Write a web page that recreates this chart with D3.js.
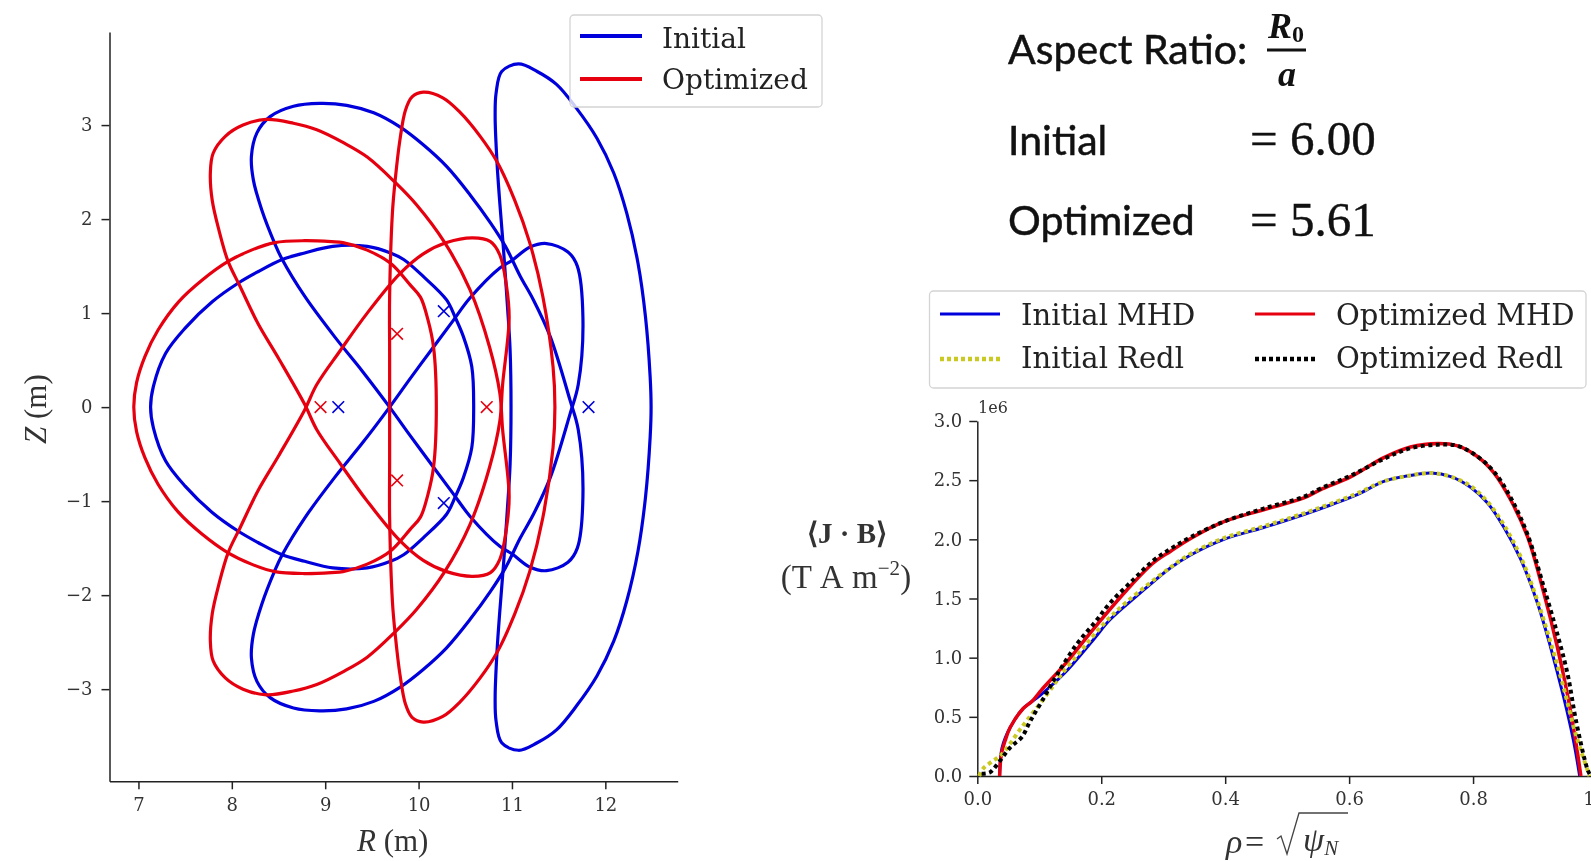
<!DOCTYPE html>
<html>
<head>
<meta charset="utf-8">
<script src="https://cdn.jsdelivr.net/npm/d3@7"></script>
<style>
  html, body { margin: 0; padding: 0; background: #fff; overflow: hidden; }
  svg { display: block; filter: blur(0.55px); }
  .tick text { font-family: "DejaVu Serif", serif; font-size: 18px; fill: #333; }
  .domain, .tick line { stroke: #222; stroke-width: 1.5px; }
  .legend text { font-family: "DejaVu Serif", serif; fill: #222; }
  .math { font-family: "Liberation Serif", serif; fill: #333; }
  .calibri { font-family: Lato, sans-serif; font-size: 41px; fill: #111; stroke: #111; stroke-width: 0.5px; }
  .cambria { font-family: "Liberation Serif", serif; font-size: 49px; fill: #111; stroke: #111; stroke-width: 0.4px; }
</style>
</head>
<body>
<div id="chart"></div>
<script>
// left panel: cross sections, upper halves mirror about Z = 0
var blueDHalf = [[7.13,0],[7.16,0.22],[7.29,0.57],[7.5,0.84],[7.79,1.12],[8.07,1.32],[8.28,1.44],[8.54,1.57],[8.78,1.64],[9.08,1.71],[9.45,1.71],[9.7,1.64],[9.84,1.57],[10.05,1.39],[10.3,1.14],[10.39,0.96],[10.48,0.75],[10.57,0.43],[10.59,0]];
var redDHalf = [[6.95,0],[6.98,0.26],[7.07,0.54],[7.21,0.82],[7.43,1.12],[7.68,1.35],[7.96,1.55],[8.21,1.67],[8.46,1.75],[8.78,1.77],[9.07,1.76],[9.19,1.75],[9.45,1.67],[9.7,1.53],[9.91,1.3],[10.02,1.17],[10.1,0.93],[10.16,0.64],[10.19,0]];
var blueBeanHalf = [[10.99,0],[10.98,0.61],[10.95,1.1],[10.91,1.67],[10.87,2.17],[10.84,2.6],[10.82,3.09],[10.83,3.34],[10.89,3.57],[11.07,3.65],[11.27,3.57],[11.48,3.43],[11.69,3.18],[11.91,2.86],[12.09,2.49],[12.23,2.06],[12.35,1.53],[12.43,0.96],[12.48,0.32],[12.49,0]];
var redBeanHalf = [[9.69,0],[9.69,0.6],[9.69,1.18],[9.72,2.07],[9.75,2.42],[9.8,2.84],[9.86,3.16],[9.93,3.3],[10.05,3.35],[10.26,3.29],[10.44,3.14],[10.66,2.88],[10.84,2.61],[11.03,2.2],[11.19,1.75],[11.33,1.18],[11.44,0.43],[11.46,0]];
var blueTilted = [[8.94,3.23],[9.23,3.21],[9.52,3.13],[9.8,2.98],[10.05,2.79],[10.3,2.56],[10.55,2.26],[10.77,1.96],[10.93,1.71],[11.09,1.39],[11.23,1.14],[11.41,0.75],[11.62,0.08],[11.71,-0.24],[11.76,-0.95],[11.7,-1.5],[11.6,-1.65],[11.37,-1.74],[11.19,-1.7],[11,-1.56],[10.87,-1.48],[10.55,-1.16],[10.37,-0.92],[10.16,-0.64],[9.9,-0.29],[9.69,0],[9.4,0.38],[9.1,0.75],[8.78,1.18],[8.54,1.57],[8.46,1.74],[8.32,2.1],[8.23,2.42],[8.21,2.67],[8.27,2.92],[8.41,3.09],[8.66,3.2]];
var redTilted = [[8.37,3.06],[8.66,3.02],[8.91,2.95],[9.2,2.81],[9.45,2.66],[9.75,2.39],[9.98,2.15],[10.28,1.75],[10.55,1.25],[10.76,0.64],[10.87,0.15],[10.9,-0.24],[10.97,-0.95],[10.94,-1.3],[10.87,-1.62],[10.77,-1.76],[10.58,-1.8],[10.3,-1.75],[10.05,-1.63],[9.8,-1.42],[9.45,-1],[9.16,-0.6],[8.91,-0.24],[8.78,0.03],[8.5,0.52],[8.28,0.89],[8.09,1.28],[7.96,1.55],[7.86,1.89],[7.79,2.2],[7.77,2.49],[7.8,2.7],[7.93,2.88],[8.12,3]];
var blueCrosses = [[9.14,0],[11.82,0],[10.27,1.02],[10.27,-1.02]];
var redCrosses = [[8.95,0],[10.73,0],[9.77,0.78],[9.77,-0.78]];
var xTicksLeft = [7,8,9,10,11,12];
var yTicksLeft = [-3,-2,-1,0,1,2,3];

// right panel: <J.B> profiles, [rho, value in 1e6]
var initialMhd = [[0.036,0],[0.04,0.24],[0.053,0.41],[0.074,0.57],[0.101,0.68],[0.141,0.87],[0.187,1.15],[0.214,1.32],[0.257,1.52],[0.312,1.76],[0.345,1.87],[0.398,2.0],[0.462,2.1],[0.527,2.21],[0.57,2.29],[0.614,2.38],[0.656,2.49],[0.699,2.54],[0.732,2.56],[0.764,2.53],[0.796,2.44],[0.823,2.31],[0.85,2.1],[0.877,1.83],[0.904,1.46],[0.925,1.09],[0.946,0.67],[0.962,0.3],[0.972,0]];
var initialRedl = [[0.003,0],[0.009,0.06],[0.023,0.12],[0.039,0.18],[0.07,0.4],[0.114,0.7],[0.133,0.84],[0.168,1.06],[0.203,1.28],[0.241,1.47],[0.311,1.76],[0.345,1.88],[0.398,2.01],[0.462,2.11],[0.527,2.22],[0.57,2.3],[0.614,2.39],[0.656,2.49],[0.699,2.54],[0.732,2.56],[0.764,2.53],[0.796,2.45],[0.823,2.32],[0.85,2.12],[0.877,1.85],[0.904,1.48],[0.925,1.13],[0.946,0.75],[0.962,0.42],[0.975,0.2],[0.988,0]];
var optimizedMhd = [[0.036,0],[0.039,0.19],[0.045,0.3],[0.053,0.41],[0.074,0.57],[0.088,0.63],[0.104,0.73],[0.125,0.85],[0.144,0.96],[0.187,1.24],[0.241,1.57],[0.284,1.8],[0.312,1.9],[0.345,2.01],[0.398,2.15],[0.462,2.25],[0.527,2.35],[0.554,2.42],[0.603,2.53],[0.656,2.69],[0.699,2.78],[0.743,2.81],[0.775,2.79],[0.807,2.7],[0.834,2.56],[0.861,2.33],[0.888,2.02],[0.914,1.55],[0.936,1.09],[0.953,0.67],[0.966,0.28],[0.974,0]];
var optimizedRedl = [[0.007,0.02],[0.02,0.03],[0.031,0.09],[0.053,0.24],[0.072,0.33],[0.085,0.46],[0.104,0.63],[0.128,0.85],[0.16,1.11],[0.19,1.3],[0.214,1.46],[0.252,1.66],[0.284,1.82],[0.312,1.92],[0.345,2.02],[0.398,2.15],[0.462,2.26],[0.527,2.36],[0.554,2.43],[0.603,2.54],[0.656,2.68],[0.699,2.77],[0.743,2.8],[0.775,2.79],[0.807,2.7],[0.834,2.57],[0.861,2.35],[0.888,2.04],[0.914,1.6],[0.936,1.2],[0.953,0.85],[0.966,0.47],[0.985,0.05],[0.99,0]];
var xTicksRight = [0,0.2,0.4,0.6,0.8,1];
var yTicksRight = [0,0.5,1,1.5,2,2.5,3];

var blue = "#0000dc";
var red = "#e6000f";
var yellow = "#c9c922";

var svg = d3.select("#chart").append("svg").attr("width", 1591).attr("height", 861);

function mirrored(half) {
  var lower = half.slice(1, -1).reverse().map(function(d) { return [d[0], -d[1]]; });
  return half.concat(lower);
}
function flipped(pts) {
  return pts.map(function(d) { return [d[0], -d[1]]; });
}

// ---- left panel
var xL = d3.scaleLinear().domain([6.69, 12.775]).range([109.5, 677.7]);
var yL = d3.scaleLinear().domain([-3.98, 3.99]).range([781.3, 32]);

svg.append("g").attr("transform", "translate(0,781.3)")
  .call(d3.axisBottom(xL).tickValues(xTicksLeft).tickFormat(d3.format("d")).tickSize(8).tickSizeOuter(0).tickPadding(9));
svg.append("g").attr("transform", "translate(109.5,0)")
  .call(d3.axisLeft(yL).tickValues(yTicksLeft).tickFormat(d3.format("d")).tickSize(8).tickSizeOuter(0).tickPadding(9));

var loop = d3.line().x(function(d) { return xL(d[0]); }).y(function(d) { return yL(d[1]); })
  .curve(d3.curveCatmullRomClosed.alpha(0.5));

var sections = [
  {pts: mirrored(blueDHalf), color: blue},
  {pts: blueTilted, color: blue},
  {pts: flipped(blueTilted), color: blue},
  {pts: mirrored(blueBeanHalf), color: blue},
  {pts: mirrored(redDHalf), color: red},
  {pts: redTilted, color: red},
  {pts: flipped(redTilted), color: red},
  {pts: mirrored(redBeanHalf), color: red}
];
svg.selectAll("path.section").data(sections).enter().append("path")
  .attr("class", "section")
  .attr("d", function(d) { return loop(d.pts); })
  .attr("fill", "none")
  .attr("stroke", function(d) { return d.color; })
  .attr("stroke-width", 3.2);

var cross = d3.symbol().type(d3.symbolX).size(90);
function drawCrosses(pts, color) {
  svg.selectAll(null).data(pts).enter().append("path")
    .attr("d", cross)
    .attr("transform", function(d) { return "translate(" + xL(d[0]) + "," + yL(d[1]) + ")"; })
    .attr("fill", "none")
    .attr("stroke", color)
    .attr("stroke-width", 1.6);
}
drawCrosses(blueCrosses, blue);
drawCrosses(redCrosses, red);

// axis labels, left
var rLabel = svg.append("text").attr("class", "math").attr("x", 357).attr("y", 851).attr("font-size", 31);
rLabel.append("tspan").attr("font-style", "italic").text("R");
rLabel.append("tspan").text(" (m)");
var zLabel = svg.append("text").attr("class", "math").attr("font-size", 31)
  .attr("transform", "translate(46,444) rotate(-90)");
zLabel.append("tspan").attr("font-style", "italic").text("Z");
zLabel.append("tspan").text(" (m)");

function legendBox(x, y, w, h) {
  svg.append("rect").attr("x", x).attr("y", y).attr("width", w).attr("height", h).attr("rx", 4)
    .attr("fill", "#fff").attr("fill-opacity", 0.8)
    .attr("stroke", "#d4d4d4").attr("stroke-width", 1.3);
}
function legendRow(x1, x2, y, textX, textY, label, color, width, dash, size) {
  var g = svg.append("g").attr("class", "legend");
  g.append("line").attr("x1", x1).attr("x2", x2).attr("y1", y).attr("y2", y)
    .attr("stroke", color).attr("stroke-width", width).attr("stroke-dasharray", dash || null);
  g.append("text").attr("x", textX).attr("y", textY).attr("font-size", size).text(label);
}

legendBox(570, 15, 252, 92);
legendRow(580, 642, 36, 662, 48, "Initial", blue, 3.8, null, 28);
legendRow(580, 642, 79, 662, 89, "Optimized", red, 3.8, null, 28);

// ---- aspect ratio text block
svg.append("text").attr("class", "calibri").attr("x", 1008).attr("y", 64).text("Aspect Ratio:");
svg.append("text").attr("x", 1286).attr("y", 38).attr("text-anchor", "middle")
  .attr("font-family", "Liberation Serif").attr("font-weight", "bold").attr("font-style", "italic")
  .attr("font-size", 36).attr("fill", "#111").text("R")
  .append("tspan").attr("font-size", 24).attr("dy", 4).attr("font-style", "normal").text("0");
svg.append("line").attr("x1", 1267).attr("x2", 1306).attr("y1", 50).attr("y2", 50)
  .attr("stroke", "#111").attr("stroke-width", 2.8);
svg.append("text").attr("x", 1287).attr("y", 86).attr("text-anchor", "middle")
  .attr("font-family", "Liberation Serif").attr("font-weight", "bold").attr("font-style", "italic")
  .attr("font-size", 36).attr("fill", "#111").text("a");
svg.append("text").attr("class", "calibri").attr("x", 1008).attr("y", 155).text("Initial");
svg.append("text").attr("class", "cambria").attr("x", 1250).attr("y", 155).text("= 6.00");
svg.append("text").attr("class", "calibri").attr("x", 1008).attr("y", 235).text("Optimized");
svg.append("text").attr("class", "cambria").attr("x", 1250).attr("y", 236).text("= 5.61");

// ---- right panel
var xR = d3.scaleLinear().domain([0, 1]).range([977.3, 1597]);
var yR = d3.scaleLinear().domain([0, 3]).range([776, 421]);

svg.append("g").attr("transform", "translate(0,776)")
  .call(d3.axisBottom(xR).tickValues(xTicksRight).tickFormat(d3.format(".1f")).tickSize(8).tickSizeOuter(0).tickPadding(8));
svg.append("g").attr("transform", "translate(977.3,0)")
  .call(d3.axisLeft(yR).tickValues(yTicksRight).tickFormat(d3.format(".1f")).tickSize(8).tickSizeOuter(0).tickPadding(7));

var profile = d3.line().x(function(d) { return xR(d[0]); }).y(function(d) { return yR(d[1]); })
  .curve(d3.curveCatmullRom.alpha(0.5));

var profiles = [
  {pts: initialMhd, color: blue, width: 3, dash: null},
  {pts: optimizedMhd, color: red, width: 3.5, dash: null},
  {pts: initialRedl, color: yellow, width: 4, dash: "4 3.5"},
  {pts: optimizedRedl, color: "#000", width: 4, dash: "4 3.5"}
];
svg.selectAll("path.profile").data(profiles).enter().append("path")
  .attr("class", "profile")
  .attr("d", function(d) { return profile(d.pts); })
  .attr("fill", "none")
  .attr("stroke", function(d) { return d.color; })
  .attr("stroke-width", function(d) { return d.width; })
  .attr("stroke-dasharray", function(d) { return d.dash; });

svg.append("text").attr("x", 978).attr("y", 413).attr("font-family", "DejaVu Serif")
  .attr("font-size", 16).attr("fill", "#333").text("1e6");

// axis labels, right
svg.append("text").attr("class", "math").attr("x", 847).attr("y", 543).attr("text-anchor", "middle")
  .attr("font-size", 29).attr("font-weight", "bold").text("⟨J · B⟩");
var unitLabel = svg.append("text").attr("class", "math").attr("x", 846).attr("y", 588)
  .attr("text-anchor", "middle").attr("font-size", 33).attr("word-spacing", 2).text("(T A m");
unitLabel.append("tspan").attr("font-size", 21).attr("dy", -13).text("−2");
unitLabel.append("tspan").attr("dy", 13).text(")");

svg.append("text").attr("class", "math").attr("x", 1226).attr("y", 853).attr("font-size", 34)
  .attr("font-style", "italic").text("ρ");
svg.append("text").attr("class", "math").attr("x", 1245).attr("y", 853).attr("font-size", 34).text("=");
svg.append("path").attr("d", "M1277,839 L1281,836 L1287,854 L1299,813 L1348,813")
  .attr("fill", "none").attr("stroke", "#444").attr("stroke-width", 1.3);
var psiLabel = svg.append("text").attr("class", "math").attr("x", 1303).attr("y", 851).attr("font-size", 34);
psiLabel.append("tspan").attr("font-style", "italic").text("ψ");
psiLabel.append("tspan").attr("font-style", "italic").attr("font-size", 21).attr("dy", 4).text("N");

// drawn last so it sits above the clipped curve ends
legendBox(929.5, 291, 656.5, 97);
legendRow(940, 1000, 314, 1021, 325, "Initial MHD", blue, 2.8, null, 29);
legendRow(940, 1000, 359, 1021, 368, "Initial Redl", yellow, 4.5, "4 3", 29);
legendRow(1255, 1315, 314, 1336, 325, "Optimized MHD", red, 2.8, null, 29);
legendRow(1255, 1315, 359, 1336, 368, "Optimized Redl", "#000", 4.5, "4 3", 29);
</script>
</body>
</html>
